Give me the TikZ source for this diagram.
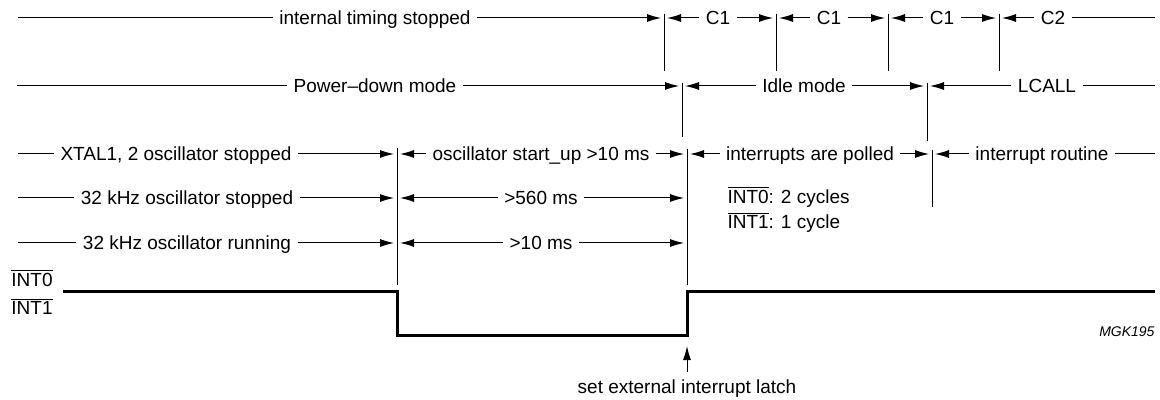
\documentclass[tikz,border=0pt]{standalone}
\usepackage{fontspec}
\setmainfont{Liberation Sans}
\usetikzlibrary{arrows.meta}
\tikzset{
    lbl/.style={
        inner xsep=3pt, inner ysep=0pt,
        text height=6.8pt, text depth=0pt,
        font=\fontsize{9.5pt}{11pt}\selectfont
    },
    arr/.style={-{Latex[length=7pt,width=4pt]}, shorten >=1.5pt},
    sig/.style={line width=1.5pt}
}

\begin{document}
\begin{tikzpicture}[x=0.5pt, y=-0.5pt, line width=0.5pt]

    % Canvas
    \useasboundingbox (0,0) rectangle (1160,400);

    % Bars
    \foreach \x/\n in {664/t0, 776/t1, 888/t2, 999/t3}
        \draw (\x,14) coordinate (\n) -- (\x,71);
    \draw (682,83) coordinate (m0) -- (682,137);
    \draw (927,83) coordinate (m1) -- (927,141);
    \draw (397,148) coordinate (b0) -- (397,285);
    \draw (687,149) coordinate (b1) -- (687,285);
    \draw (932,150) coordinate (b2) -- (932,207);

    % Internal timing
    \node[lbl] (its) at (375,18) {internal timing stopped};
    \coordinate (its0) at (18,18);
    \draw (its0) -- (its.west);
    \draw[arr] (its.east) -- (its.east -| t0);
    \node[lbl] (c1a) at (718,18) {C1};
    \draw[arr] (c1a.west) -- (c1a.west -| t0);
    \draw[arr] (c1a.east) -- (c1a.east -| t1);
    \node[lbl] (c1b) at (829,18) {C1};
    \draw[arr] (c1b.west) -- (c1b.west -| t1);
    \draw[arr] (c1b.east) -- (c1b.east -| t2);
    \node[lbl] (c1c) at (942,18) {C1};
    \draw[arr] (c1c.west) -- (c1c.west -| t2);
    \draw[arr] (c1c.east) -- (c1c.east -| t3);
    \node[lbl] (c2) at (1053,18) {C2};
    \draw[arr] (c2.west) -- (c2.west -| t3);
    \coordinate (c2e) at (1155,18);
    \draw (c2.east) -- (c2e);

    % Modes
    \node[lbl] (pd) at (375,86) {Power--down mode};
    \coordinate (pd0) at (17,86);
    \draw (pd0) -- (pd.west);
    \draw[arr] (pd.east) -- (pd.east -| m0);
    \node[lbl] (idle) at (804,86) {Idle mode};
    \draw[arr] (idle.west) -- (idle.west -| m0);
    \draw[arr] (idle.east) -- (idle.east -| m1);
    \node[lbl] (lcall) at (1047,86) {LCALL};
    \draw[arr] (lcall.west) -- (lcall.west -| m1);
    \coordinate (lcalle) at (1155,86);
    \draw (lcall.east) -- (lcalle);

    % Oscillators
    \node[lbl] (xtal) at (176,154) {XTAL1, 2 oscillator stopped};
    \coordinate (xtal0) at (18,154);
    \draw (xtal0) -- (xtal.west);
    \draw[arr] (xtal.east) -- (xtal.east -| b0);
    \node[lbl] (start) at (541,154) {oscillator start\_up >10 ms};
    \draw[arr] (start.west) -- (start.west -| b0);
    \draw[arr] (start.east) -- (start.east -| b1);
    \node[lbl] (poll) at (810,154) {interrupts are polled};
    \draw[arr] (poll.west) -- (poll.west -| b1);
    \draw[arr] (poll.east) -- (poll.east -| b2);
    \node[lbl] (rout) at (1042,154) {interrupt routine};
    \draw[arr] (rout.west) -- (rout.west -| b2);
    \coordinate (route) at (1155,154);
    \draw (rout.east) -- (route);

    \node[lbl] (kstop) at (187,198) {32 kHz oscillator stopped};
    \coordinate (kstop0) at (18,198);
    \draw (kstop0) -- (kstop.west);
    \draw[arr] (kstop.east) -- (kstop.east -| b0);
    \node[lbl] (d560) at (541,198) {>560 ms};
    \draw[arr] (d560.west) -- (d560.west -| b0);
    \draw[arr] (d560.east) -- (d560.east -| b1);

    \node[lbl] (krun) at (187,243) {32 kHz oscillator running};
    \coordinate (krun0) at (18,243);
    \draw (krun0) -- (krun.west);
    \draw[arr] (krun.east) -- (krun.east -| b0);
    \node[lbl] (d10) at (541,243) {>10 ms};
    \draw[arr] (d10.west) -- (d10.west -| b0);
    \draw[arr] (d10.east) -- (d10.east -| b1);

    % Cycles
    \node[lbl, anchor=west] (cyc0) at (721,197) {\mbox{$\overline{\mbox{INT0}}$}: 2 cycles};
    \node[lbl, anchor=west] (cyc1) at (721,222) {\mbox{$\overline{\mbox{INT1}}$}: 1 cycle};

    % Signal
    \node[lbl] (int0) at (32,280) {$\overline{\mbox{INT0}}$};
    \node[lbl] (int1) at (32,308) {$\overline{\mbox{INT1}}$};
    \draw[sig] (63,292) -- (397,292) -- (397,335) -- (687,335) coordinate (lowR)
        -- (687,292) -- (1155,292);

    % Latch
    \node[lbl] (latch) at (687,387) {set external interrupt latch};
    \draw[arr, shorten <=4pt, shorten >=5.5pt] (latch.north) -- (lowR);

    \node[lbl, anchor=east, font=\fontsize{7pt}{8pt}\selectfont\itshape] (mgk) at (1161,330) {MGK195};

\end{tikzpicture}
\end{document}
